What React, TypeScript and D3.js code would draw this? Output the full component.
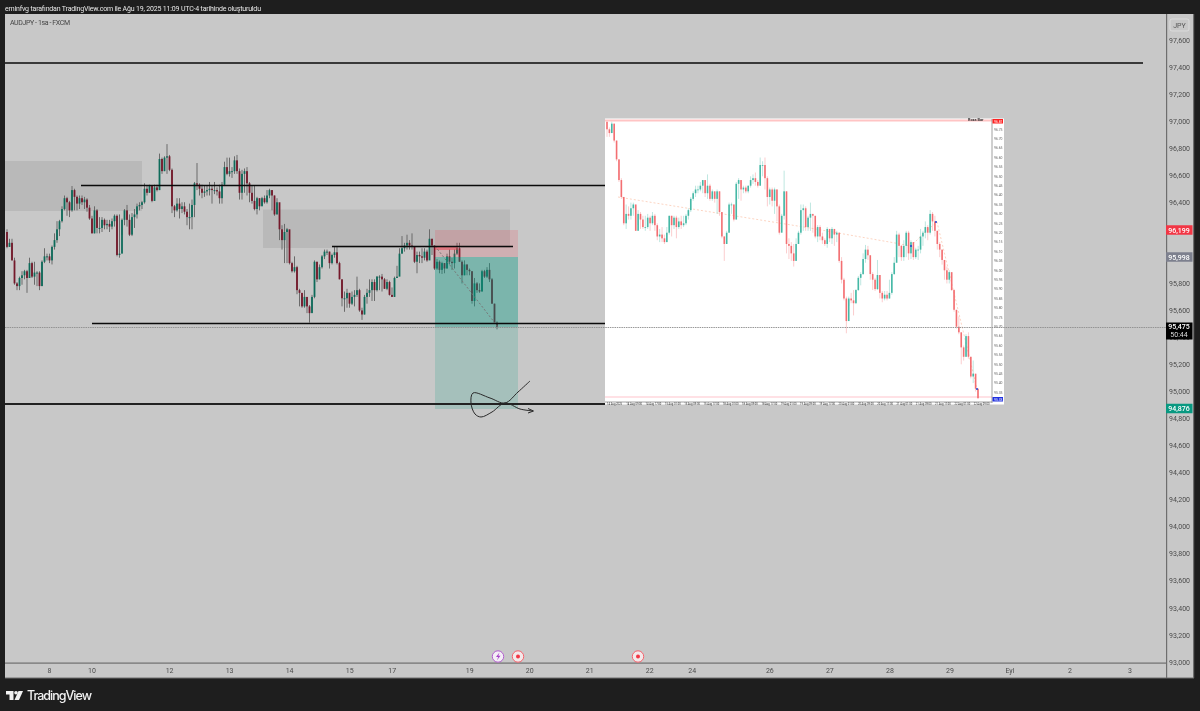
import React from "react";
import * as d3 from "d3";

const W = 1200, H = 711;
const FONT = "Roboto, 'Liberation Sans', sans-serif";

const mainFirstOpen = 96.18;
const mainCloses = [96.07,96.10,95.97,95.80,95.78,95.84,95.86,95.89,95.84,95.95,95.85,95.88,95.88,95.78,95.96,96.00,96.00,95.97,96.07,96.12,96.20,96.26,96.35,96.43,96.40,96.34,96.49,96.44,96.39,96.43,96.40,96.42,96.36,96.28,96.17,96.34,96.21,96.21,96.27,96.23,96.24,96.22,96.26,96.30,96.01,96.02,96.27,96.34,96.27,96.16,96.29,96.31,96.37,96.38,96.40,96.50,96.47,96.52,96.41,96.51,96.49,96.72,96.63,96.73,96.74,96.64,96.37,96.34,96.39,96.35,96.37,96.33,96.29,96.29,96.38,96.54,96.53,96.50,96.47,96.48,96.49,96.50,96.49,96.49,96.48,96.43,96.53,96.66,96.61,96.63,96.63,96.71,96.63,96.47,96.61,96.63,96.54,96.47,96.41,96.35,96.43,96.37,96.43,96.40,96.45,96.49,96.45,96.31,96.40,96.20,96.12,96.18,96.20,95.95,95.89,95.92,95.75,95.73,
95.63,95.70,95.63,95.58,95.70,95.96,95.83,95.92,96.00,96.035,96.035,95.95,96.01,96.03,95.95,95.83,95.69,95.69,95.73,95.65,95.70,95.715,95.75,95.60,95.57,95.70,95.73,95.75,95.81,95.75,95.85,95.85,95.83,95.76,95.81,95.715,95.70,95.84,95.85,96.02,96.06,96.08,96.10,96.08,96.07,95.96,96.01,96.00,95.99,96.035,95.97,96.13,96.08,95.91,95.96,95.90,95.95,95.91,96.00,95.96,95.95,96.02,96.06,95.96,95.86,95.94,95.90,95.89,95.67,95.80,95.75,95.74,95.89,95.85,95.90,95.83,95.65,95.51,95.48];
const mainHighs = [96.20,96.13,96.13,95.99,95.81,95.85,95.89,95.90,95.90,95.99,95.96,95.96,95.89,95.89,95.97,96.06,96.02,96.02,96.08,96.17,96.26,96.27,96.37,96.45,96.44,96.41,96.52,96.50,96.45,96.45,96.45,96.44,96.43,96.38,96.30,96.37,96.35,96.29,96.29,96.28,96.27,96.27,96.28,96.31,96.31,96.31,96.28,96.35,96.38,96.31,96.32,96.35,96.39,96.40,96.41,96.54,96.52,96.53,96.52,96.53,96.53,96.76,96.73,96.74,96.83,96.75,96.65,96.38,96.43,96.43,96.40,96.40,96.35,96.39,96.42,96.55,96.69,96.54,96.53,96.52,96.52,96.55,96.52,96.55,96.51,96.53,96.55,96.70,96.73,96.73,96.66,96.74,96.75,96.65,96.64,96.65,96.66,96.55,96.52,96.52,96.44,96.43,96.44,96.45,96.49,96.50,96.49,96.45,96.43,96.38,96.23,96.24,96.21,96.00,95.96,96.00,95.93,95.76,
95.715,95.75,95.68,95.64,95.715,95.97,95.96,95.94,96.01,96.05,96.05,96.035,96.02,96.07,96.07,95.96,95.83,95.74,95.76,95.73,95.74,95.75,95.85,95.76,95.62,95.715,95.76,95.83,95.83,95.83,95.855,95.86,95.87,95.84,95.83,95.82,95.77,95.85,95.93,96.06,96.15,96.10,96.16,96.12,96.17,96.07,96.035,96.035,96.06,96.06,96.05,96.20,96.13,96.08,95.98,95.97,95.96,95.95,96.02,96.05,95.99,96.05,96.10,96.10,95.97,95.97,95.94,95.91,95.89,95.84,95.81,95.80,95.90,95.90,95.92,95.95,95.84,95.65,95.52];
const mainLows = [96.06,96.07,95.97,95.79,95.75,95.75,95.79,95.83,95.73,95.84,95.84,95.79,95.78,95.75,95.78,95.95,95.97,95.95,95.94,96.05,96.10,96.15,96.25,96.34,96.30,96.29,96.33,96.34,96.34,96.35,96.38,96.35,96.33,96.27,96.17,96.17,96.17,96.17,96.18,96.20,96.20,96.18,96.20,96.22,96.00,95.99,96.16,96.23,96.22,96.15,96.15,96.21,96.28,96.34,96.35,96.39,96.45,96.47,96.40,96.41,96.48,96.49,96.61,96.63,96.61,96.63,96.32,96.29,96.33,96.28,96.32,96.31,96.23,96.20,96.20,96.29,96.49,96.45,96.43,96.44,96.45,96.45,96.39,96.46,96.45,96.39,96.39,96.52,96.60,96.59,96.58,96.61,96.61,96.42,96.42,96.47,96.45,96.40,96.39,96.34,96.31,96.34,96.38,96.39,96.39,96.43,96.34,96.30,96.31,96.12,96.05,95.95,95.95,95.94,95.88,95.88,95.72,95.63,
95.62,95.62,95.58,95.51,95.59,95.69,95.81,95.83,95.91,95.98,96.01,95.91,95.94,95.99,95.94,95.83,95.63,95.59,95.62,95.62,95.64,95.63,95.70,95.59,95.53,95.57,95.65,95.70,95.67,95.67,95.74,95.75,95.74,95.76,95.75,95.71,95.70,95.70,95.84,95.875,96.02,96.035,96.05,96.05,96.05,95.95,95.875,95.95,95.95,95.97,95.96,96.03,96.01,95.90,95.90,95.875,95.87,95.875,95.91,95.94,95.90,95.91,96.01,95.96,95.80,95.86,95.86,95.86,95.65,95.63,95.73,95.73,95.74,95.84,95.84,95.81,95.65,95.50,95.46];

const insetFirstOpen = 96.79;
const insetCloses = [96.75,96.73,96.78,96.69,96.59,96.48,96.39,96.25,96.30,96.29,96.33,96.35,96.21,96.30,96.27,96.23,96.23,96.28,96.25,96.29,96.24,96.18,96.19,96.17,96.15,96.20,96.29,96.24,96.28,96.23,96.26,96.24,96.25,96.29,96.32,96.38,96.41,96.43,96.43,96.45,96.48,96.41,96.45,96.38,96.42,96.38,96.42,96.31,96.18,96.14,96.20,96.35,96.35,96.27,96.46,96.48,96.43,96.44,96.42,96.45,96.48,96.49,96.47,96.45,96.56,96.56,96.49,96.39,96.43,96.37,96.43,96.34,96.20,96.29,96.42,96.14,96.13,96.09,96.05,96.14,96.20,96.32,96.33,96.23,96.28,
96.30,96.29,96.18,96.23,96.18,96.16,96.14,96.22,96.17,96.22,96.19,96.20,96.05,
95.95,95.85,95.73,95.85,95.84,95.825,95.895,95.96,95.98,96.06,96.11,96.08,95.98,95.95,95.90,95.975,95.88,95.85,95.87,95.85,95.88,95.98,96.04,96.19,96.13,96.07,96.13,96.20,96.09,96.15,96.07,96.11,96.11,96.18,96.20,96.23,96.20,96.30,96.26,96.21,96.14,96.11,96.055,96.00,95.95,95.99,95.895,95.79,95.70,95.67,95.59,95.54,95.65,95.54,95.435,95.45,95.37,95.32];
const insetHighs = [96.79,96.76,96.79,96.78,96.69,96.59,96.49,96.39,96.35,96.34,96.36,96.36,96.35,96.32,96.31,96.29,96.29,96.30,96.29,96.31,96.30,96.25,96.22,96.23,96.19,96.23,96.29,96.29,96.29,96.29,96.28,96.29,96.29,96.30,96.33,96.39,96.42,96.45,96.45,96.47,96.48,96.48,96.51,96.46,96.43,96.41,96.43,96.42,96.20,96.18,96.21,96.36,96.36,96.35,96.47,96.49,96.48,96.45,96.45,96.45,96.50,96.51,96.52,96.48,96.60,96.58,96.60,96.50,96.44,96.44,96.44,96.43,96.35,96.30,96.53,96.42,96.17,96.15,96.14,96.17,96.21,96.35,96.35,96.34,96.29,
96.36,96.29,96.24,96.24,96.24,96.20,96.17,96.23,96.22,96.23,96.21,96.21,96.20,
96.07,95.96,95.86,95.86,95.88,95.895,95.90,95.97,95.99,96.09,96.135,96.13,96.08,95.99,95.96,96.055,95.975,95.89,95.89,95.89,95.95,95.99,96.07,96.21,96.20,96.135,96.16,96.21,96.21,96.16,96.13,96.12,96.13,96.22,96.21,96.26,96.24,96.32,96.31,96.29,96.21,96.15,96.11,96.05,96.02,96.00,95.99,95.90,95.78,95.755,95.67,95.60,95.66,95.67,95.54,95.52,95.45,95.37];
const insetLows = [96.71,96.71,96.73,96.68,96.58,96.47,96.38,96.24,96.22,96.27,96.27,96.29,96.21,96.24,96.22,96.22,96.21,96.22,96.21,96.24,96.21,96.16,96.15,96.15,96.14,96.15,96.19,96.18,96.22,96.17,96.22,96.22,96.23,96.24,96.27,96.31,96.37,96.39,96.41,96.42,96.41,96.39,96.38,96.37,96.37,96.36,96.30,96.29,96.17,96.05,96.14,96.20,96.30,96.26,96.27,96.38,96.37,96.41,96.41,96.41,96.44,96.46,96.45,96.44,96.45,96.50,96.43,96.34,96.35,96.34,96.30,96.26,96.19,96.21,96.27,96.09,96.06,96.05,96.02,96.05,96.14,96.19,96.21,96.21,96.21,
96.21,96.20,96.17,96.15,96.16,96.14,96.13,96.12,96.15,96.14,96.13,96.15,96.04,
95.93,95.84,95.665,95.81,95.825,95.76,95.82,95.89,95.92,95.975,96.04,96.055,95.95,95.895,95.89,95.895,95.85,95.83,95.84,95.84,95.85,95.87,95.975,96.08,96.07,96.05,96.05,96.07,96.055,96.06,96.055,96.06,96.055,96.09,96.13,96.17,96.16,96.19,96.21,96.18,96.11,96.07,96.03,95.95,95.93,95.93,95.89,95.78,95.69,95.66,95.50,95.52,95.54,95.53,95.425,95.40,95.355,95.315];

const priceTicks = [97.6,97.4,97.2,97.0,96.8,96.6,96.4,96.2,96.0,95.8,95.6,95.4,95.2,95.0,94.8,94.6,94.4,94.2,94.0,93.8,93.6,93.4,93.2,93.0];
const insetTicks = [96.75,96.70,96.65,96.60,96.55,96.50,96.45,96.40,96.35,96.30,96.25,96.20,96.15,96.10,96.05,96.00,95.95,95.90,95.85,95.80,95.75,95.70,95.65,95.60,95.55,95.50,95.45,95.40,95.35];
const dayLabels = ["8","10","12","13","14","15","17","19","20","21","22","24","26","27","28","29","Eyl","2","3"];
const dayHours = [17,34,65,89,113,137,154,185,209,233,257,274,305,329,353,377,401,425,449];
const insetDates = ["14 Aug 2025","14 Aug 09:00","14 Aug 17:00","15 Aug 01:00","15 Aug 09:00","15 Aug 17:00","18 Aug 01:00","18 Aug 09:00","18 Aug 17:00","19 Aug 01:00","19 Aug 09:00","19 Aug 17:00","20 Aug 01:00","20 Aug 09:00","20 Aug 17:00","21 Aug 01:00","21 Aug 09:00","21 Aug 17:00","22 Aug 01:00","22 Aug 09:00"];

const y = d3.scaleLinear().domain([97.6, 93.0]).range([40, 662]);
const xMain = d3.scaleLinear().domain([0, 196]).range([7, 497]);
const xHours = d3.scaleLinear().domain([0, 449]).range([7, 1130]);
const yInset = d3.scaleLinear().domain([96.75, 95.35]).range([129.3, 392.5]);
const xInset = d3.scaleLinear().domain([0, insetCloses.length - 1]).range([607, 978]);
const fmt = (v: number) => v.toFixed(3).replace(".", ",");

function Badge({ yc, h = 10, fill, text, sub }: any) {
  return (
    <g>
      <rect x={1166} y={yc - h / 2} width={26.5} height={h} fill={fill} />
      <text x={1179} y={sub ? yc - 2 : yc + 2.6} textAnchor="middle" fontSize={7} fill="#fff" fontWeight={500}>{text}</text>
      {sub && <text x={1179} y={yc + 6} textAnchor="middle" fontSize={7} fill="#ddd">{sub}</text>}
    </g>
  );
}

export default function App() {
  const scribble = d3.line().curve(d3.curveCatmullRom)([
    [530, 381], [518, 392], [505, 403], [490, 398], [473, 393], [471, 403], [475, 414], [481, 417], [492, 412], [505, 403], [520, 409], [533, 411],
  ] as [number, number][]) as string;
  return (
    <svg width={W} height={H} style={{ position: "fixed", left: 0, top: 0, filter: "blur(0.35px)" }} fontFamily={FONT}>
      <rect width={W} height={H} fill="#1e1e1e" />
      <text x={5} y={10.5} fontSize={7} fill="#e8e8e8" textLength={256}>eminfvg tarafından TradingView.com ile Ağu 19, 2025 11:09 UTC-4 tarihinde oluşturuldu</text>

      <rect x={5} y={14} width={1189} height={664} fill="#c8c8c8" />
      <text x={10} y={25} fontSize={7} fill="#454545" textLength={60}>AUDJPY - 1sa - FXCM</text>

      {/* zones */}
      <rect x={5} y={161} width={137} height={50} fill="#b9b9b9" />
      <rect x={263} y={209.5} width={247} height={38.5} fill="#b9b9b9" />

      {/* main candles */}
      {mainCloses.map((c, i) => {
        const o = i ? mainCloses[i - 1] : mainFirstOpen;
        const up = c >= o;
        const top = y(Math.max(o, c));
        const x = xMain(i);
        return (
          <g key={i}>
            <line x1={x} x2={x} y1={y(mainHighs[i])} y2={y(mainLows[i])} stroke="#6a6a6a" strokeWidth={1} />
            <rect x={x - 0.9} y={top} width={1.8} height={Math.max(1, y(Math.min(o, c)) - top)} fill={up ? "#0e6b5a" : "#74182a"} />
          </g>
        );
      })}

      {/* position box */}
      <rect x={435} y={230} width={83} height={27} fill="#f23645" fillOpacity={0.17} />
      <rect x={435} y={246} width={23} height={4} fill="#f23645" fillOpacity={0.45} />
      <rect x={435} y={257} width={83} height={70} fill="#089981" fillOpacity={0.4} />
      <rect x={435} y={327} width={83} height={82} fill="#089981" fillOpacity={0.18} />
      <line x1={435} y1={246} x2={498} y2={327} stroke="#777" strokeDasharray="2 2" strokeWidth={1} />

      {/* drawn levels */}
      <line x1={5} x2={1143} y1={63} y2={63} stroke="#0a0a0a" strokeWidth={1.5} />
      <line x1={81} x2={605} y1={185.5} y2={185.5} stroke="#0a0a0a" strokeWidth={1.5} />
      <line x1={332} x2={513} y1={246.5} y2={246.5} stroke="#0a0a0a" strokeWidth={1.5} />
      <line x1={92} x2={605} y1={323.5} y2={323.5} stroke="#0a0a0a" strokeWidth={1.5} />
      <line x1={5} x2={605} y1={404} y2={404} stroke="#222" strokeWidth={1.8} />
      <path d={scribble} fill="none" stroke="#2a2a2a" strokeWidth={1} />
      <path d="M528 408.5 L533.5 411 L528 413" fill="none" stroke="#2a2a2a" strokeWidth={1} />

      {/* inset */}
      <rect x={605} y={118.5} width={399} height={286} fill="#ffffff" />
      <line x1={605} x2={992} y1={120.5} y2={120.5} stroke="#ffc4c4" strokeWidth={2} />
      <line x1={605} x2={992} y1={397} y2={397} stroke="#ffc4cc" strokeWidth={1.2} />
      <polyline points="618,197 810,228 838,233 895,243 911,246 925,232 937,222 977,389" fill="none" stroke="#fbc9b3" strokeWidth={0.8} strokeDasharray="2 2" />
      {insetCloses.map((c, i) => {
        const o = i ? insetCloses[i - 1] : insetFirstOpen;
        const up = c >= o;
        const top = yInset(Math.max(o, c));
        const x = xInset(i);
        const col = up ? "#45b8a6" : "#f36f72";
        return (
          <g key={i}>
            <line x1={x} x2={x} y1={yInset(insetHighs[i])} y2={yInset(insetLows[i])} stroke={col} strokeOpacity={0.35} strokeWidth={1} />
            <rect x={x - 0.8} y={top} width={1.6} height={Math.max(0.8, yInset(Math.min(o, c)) - top)} fill={col} />
          </g>
        );
      })}
      <circle cx={911} cy={246} r={1} fill="#2040d0" />
      <circle cx={936} cy={222} r={1} fill="#2040d0" />
      <circle cx={977} cy={389} r={1} fill="#2040d0" />
      <line x1={992} x2={992} y1={119} y2={403} stroke="#888" strokeWidth={0.8} />
      <line x1={605} x2={992} y1={402} y2={402} stroke="#888" strokeWidth={0.8} />
      {insetTicks.map((t) => (
        <text key={t} x={994} y={yInset(t) + 1.3} fontSize={3.4} fill="#666">{t.toFixed(2)}</text>
      ))}
      {insetDates.map((d, i) => (
        <text key={d} x={607 + i * 19.3} y={404.5} fontSize={2.7} fill="#333">{d}</text>
      ))}
      <text x={968} y={120.8} fontSize={3.8} fill="#333" fontWeight={700}>Roza Bar</text>
      <rect x={992.5} y={119} width={10.5} height={4.5} fill="#ff2020" />
      <text x={994} y={122.5} fontSize={3.4} fill="#fff">96.81</text>
      <rect x={992.5} y={397} width={10.5} height={4.5} fill="#2030e0" />
      <text x={994} y={400.5} fontSize={3.4} fill="#fff">95.33</text>

      {/* last price line */}
      <line x1={5} x2={1166} y1={327.5} y2={327.5} stroke="#8c8c8c" strokeWidth={0.9} strokeDasharray="1.5 0.8" />

      {/* price axis */}
      <rect x={1166} y={14} width={1.2} height={664} fill="#6e6e6e" />
      <rect x={1193} y={14} width={1.2} height={664} fill="#6e6e6e" />
      <rect x={1170} y={19} width={19} height={12} rx={2} fill="none" stroke="#e0e0e0" strokeWidth={0.8} />
      <text x={1179.5} y={27.5} textAnchor="middle" fontSize={7} fill="#555">JPY</text>
      {priceTicks.map((t) => (
        <text key={t} x={1179.5} y={y(t) + 2.6} textAnchor="middle" fontSize={7} fill="#4c4c4c">{fmt(t)}</text>
      ))}
      <Badge yc={230} h={9.5} fill="#f23645" text={fmt(96.199)} />
      <Badge yc={257} h={9.5} fill="#7d808e" text={fmt(95.998)} />
      <Badge yc={331} h={17} fill="#000000" text={fmt(95.475)} sub="50:44" />
      <Badge yc={408.5} h={9.5} fill="#089981" text={fmt(94.876)} />

      {/* time axis */}
      <rect x={5} y={662.5} width={1161} height={1.2} fill="#6e6e6e" />
      <rect x={5} y={677.5} width={1189} height={1} fill="#6e6e6e" />
      {dayLabels.map((d, i) => (
        <text key={i} x={xHours(dayHours[i])} y={673} textAnchor="middle" fontSize={7} fill="#4c4c4c">{d}</text>
      ))}

      {/* events */}
      <circle cx={498} cy={656.5} r={5.7} fill="#f4eef6" stroke="#b45fd0" strokeWidth={1} />
      <path d="M499.5 652.5 L496 657 L498.3 657 L496.8 660.5 L500.5 655.7 L498.3 655.7 Z" fill="#a53ec8" />
      {[518, 638].map((cx) => (
        <g key={cx}>
          <circle cx={cx} cy={656.5} r={5.7} fill="#f3e9ea" stroke="#f7626e" strokeWidth={1} />
          <circle cx={cx} cy={656.5} r={2} fill="#f23645" />
        </g>
      ))}

      {/* logo */}
      <g fill="#f2f2f2">
        <path d="M6 691 H13.5 V700 H9.5 V694.5 H6 Z" />
        <circle cx={16} cy={692.7} r={1.8} />
        <path d="M18.5 691 H23 L19 700 H14.5 Z" />
      </g>
      <text x={27} y={700} fontSize={12.5} fontWeight={500} fill="#f2f2f2" fontFamily="Inter, Roboto, sans-serif" textLength={65}>TradingView</text>
    </svg>
  );
}
